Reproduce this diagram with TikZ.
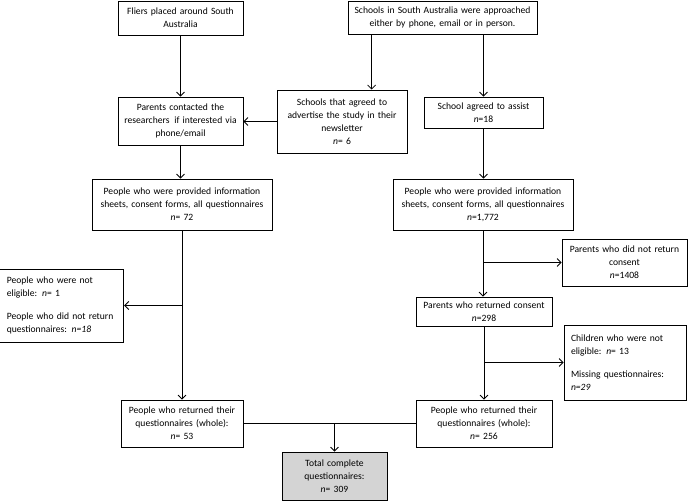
\documentclass[tikz,border=0pt]{standalone}
\usepackage{fontspec}
\setmainfont{Carlito}
\usetikzlibrary{arrows.meta}
\hyphenpenalty=10000\relax
\exhyphenpenalty=10000\relax
\begin{document}
\begin{tikzpicture}[x=1pt,y=-1pt,
  box/.style={draw=black, line width=0.8pt, inner sep=0pt, align=center,
    font=\fontsize{9.6}{13}\selectfont},
  lbox/.style={box, align=left, inner xsep=7pt},
  arr/.style={line width=0.8pt, -{Straight Barb[length=4pt,width=8pt]}},
  ln/.style={line width=0.8pt}]
\useasboundingbox (0,0) rectangle (688,502);
\node[box, minimum width=125, minimum height=34, text width=125] (fliers) at (180.5,18)
  {Fliers placed around South\\Australia};
\node[box, minimum width=189, minimum height=33, text width=189] (schools) at (442.5,17.5)
  {Schools in South Australia were approached\\either by phone, email or in person.};
\node[box, minimum width=125, minimum height=48, text width=125] (parents) at (180.5,121)
  {Parents contacted the\\researchers\ \,if interested via\\phone/email};
\node[box, minimum width=130, minimum height=63, text width=130] (agreed) at (342,121.5)
  {Schools that agreed to\\advertise the study in their\\newsletter\\\textit{n}= 6};
\node[box, minimum width=119, minimum height=31, text width=119] (assist) at (483.5,112.5)
  {School agreed to assist\\\textit{n}=18};
\node[box, minimum width=180, minimum height=51, text width=180] (provL) at (182,204.5)
  {People who were provided information\\sheets, consent forms, all questionnaires\\\textit{n}= 72};
\node[box, minimum width=180, minimum height=51, text width=180] (provR) at (483,204.5)
  {People who were provided information\\sheets, consent forms, all questionnaires\\\textit{n}=1,772};
\node[lbox, minimum width=122.5, minimum height=73, text width=110] (noteL) at (61.8,305.5)
  {People who were not\\eligible: \textit{n}= 1\\[10pt]People who did not return\\questionnaires: \textit{n=18}};
\node[box, minimum width=125, minimum height=47, text width=125] (notret) at (624.5,262.5)
  {Parents who did not return\\consent\\\textit{n}=1408};
\node[box, minimum width=136, minimum height=29, text width=136] (retcons) at (484,311.5)
  {Parents who returned consent\\\textit{n}=298};
\node[lbox, minimum width=122, minimum height=75, text width=108] (child) at (625,362.5)
  {Children who were not\\eligible: \textit{n}= 13\\[10pt]Missing questionnaires:\\\textit{n=29}};
\node[box, minimum width=122, minimum height=47, text width=122] (retL) at (182,423.5)
  {People who returned their\\questionnaires (whole):\\\textit{n}= 53};
\node[box, minimum width=136, minimum height=47, text width=136] (retR) at (484,423.5)
  {People who returned their\\questionnaires (whole):\\\textit{n}= 256};
\node[box, fill=black!17, minimum width=105, minimum height=48, text width=105] (total) at (334.5,476)
  {Total complete\\questionnaires:\\\textit{n}= 309};
% connectors
\draw[arr] (fliers.south) -- (parents.north);
\draw[arr] ([xshift=24pt]schools.south west) -- ([xshift=24pt]schools.south west |- agreed.north);
\draw[arr] (schools.south -| assist.north) -- (assist.north);
\draw[arr] (agreed.west) -- (agreed.west -| parents.east);
\draw[arr] (parents.south) -- (parents.south |- provL.north);
\draw[arr] (assist.south) -- (assist.south |- provR.north);
\draw[arr] (provL.south) -- (provL.south |- retL.north);
\draw[arr] (provL.south |- noteL.east) -- (noteL.east);
\draw[arr] (provR.south) -- (provR.south |- retcons.north);
\draw[arr] (provR.south |- notret.west) -- (notret.west);
\draw[arr] (retcons.south) -- (retR.north);
\draw[arr] (retcons.south |- child.west) -- (child.west);
\draw[ln] (retL.east) -- (retR.west);
\draw[arr] (total.north |- retL.east) -- (total.north);
\end{tikzpicture}
\end{document}
